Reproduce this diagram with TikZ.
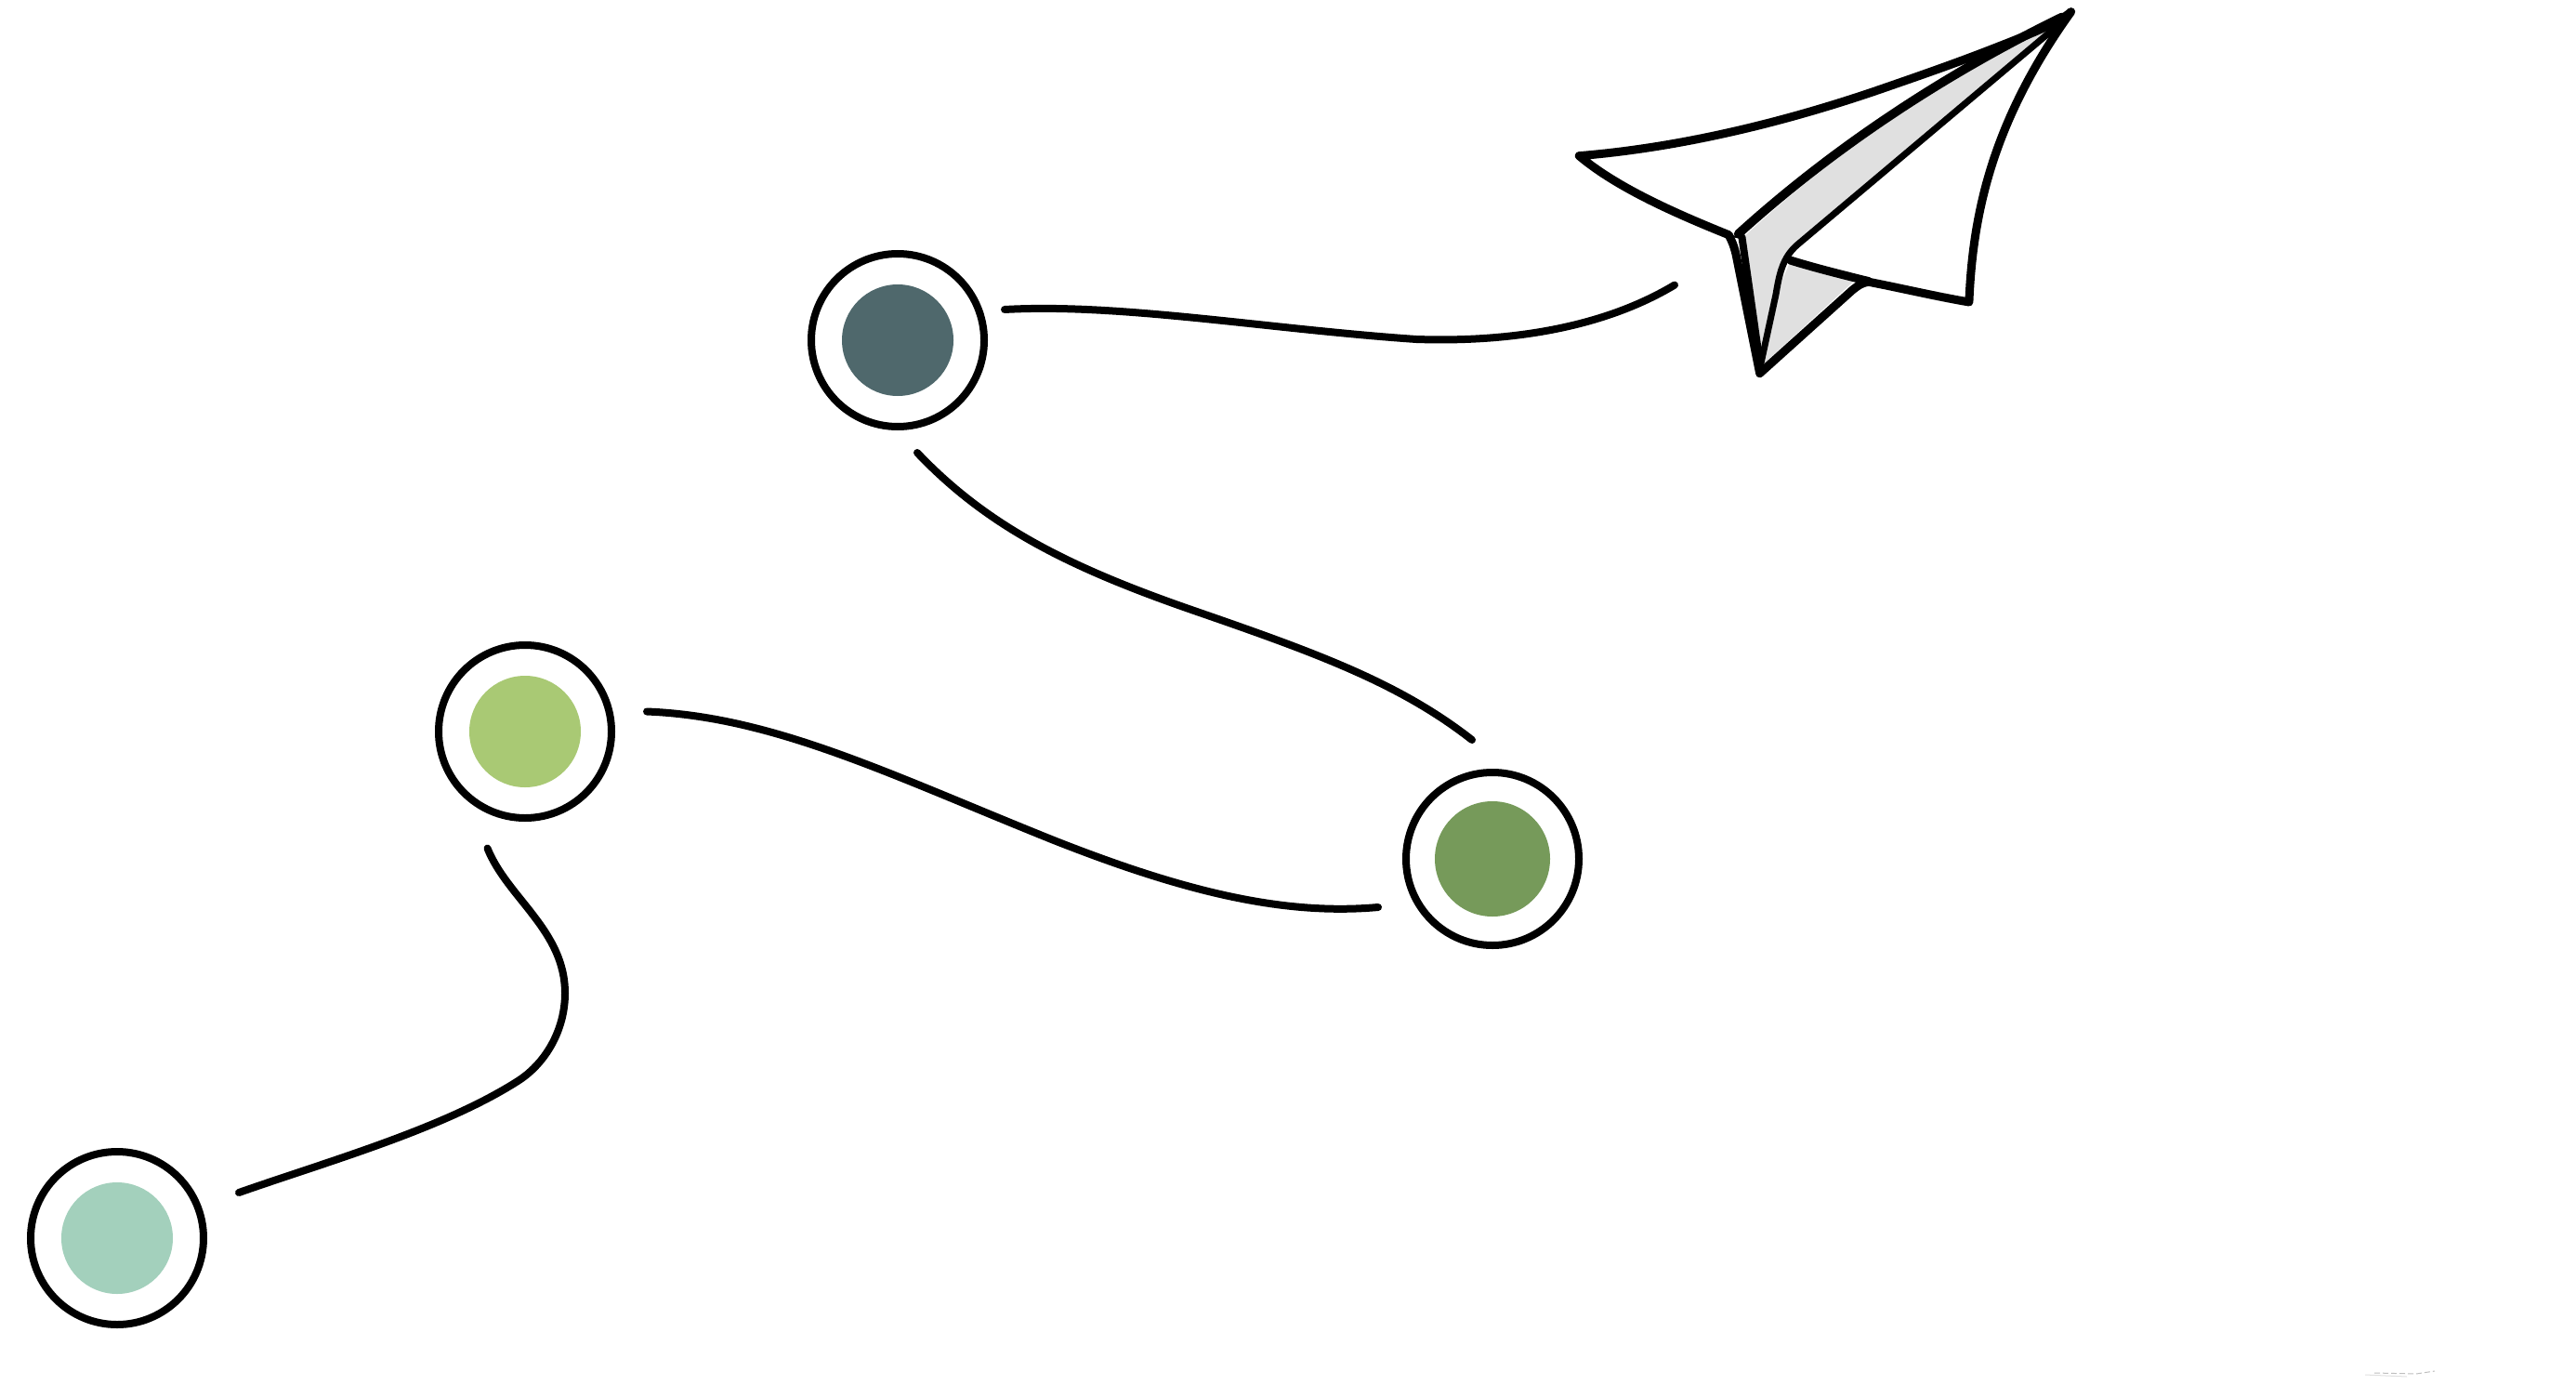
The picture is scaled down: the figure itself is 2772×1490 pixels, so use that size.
\documentclass[tikz,border=0pt]{standalone}
\definecolor{mint}{HTML}{A3D0BC}
\definecolor{leaf}{HTML}{A9C974}
\definecolor{moss}{HTML}{769A5A}
\definecolor{slate}{HTML}{4F686C}
\definecolor{foldgray}{HTML}{E0E0E0}
\tikzset{
  ring/.style={circle,draw=black,line width=8pt,fill=white,minimum size=186pt,inner sep=0pt},
  dot/.style={circle,fill=#1,minimum size=120pt,inner sep=0pt},
  link/.style={line width=8pt,line cap=round,line join=round},
  paper/.style={line width=9pt,line cap=round,line join=round}
}
\begin{document}
\begin{tikzpicture}[x=1pt,y=-1pt]
\useasboundingbox (0,0) rectangle (2772,1490);
\node[ring] (n1) at (126,1332) {}; \node[dot=mint] (d1) at (126,1332) {};
\node[ring] (n2) at (565,787) {}; \node[dot=leaf] (d2) at (565,787) {};
\node[ring] (n3) at (966,366) {}; \node[dot=slate] (d3) at (966,366) {};
\node[ring] (n4) at (1606,924) {}; \node[dot=moss,minimum size=124pt] (d4) at (1606,924) {};
\coordinate (a0) at (257,1283); \coordinate (a1) at (524.5,912.6);
\coordinate (b0) at (696,765.5); \coordinate (b1) at (1483,976);
\coordinate (c0) at (987,487); \coordinate (c1) at (1584,796);
\coordinate (e0) at (1081,333); \coordinate (e1) at (1802,306.6);
\draw[link] (a1) .. controls (546,966) and (608,1001) .. (608,1068.5) .. controls (608,1107) and (588,1143) .. (558,1162.5) .. controls (478,1214) and (354,1249) .. (a0);
\draw[link] (b0) .. controls (833,771) and (957,833) .. (1134,904) .. controls (1276,960) and (1382,985) .. (b1);
\draw[link] (c0) .. controls (1063,567) and (1152,611) .. (1285,657) .. controls (1418,703) and (1506,735) .. (c1);
\draw[link] (e0) .. controls (1205,326) and (1364,354) .. (1524,365) .. controls (1630,368.6) and (1728,351) .. (e1);
% paper plane, written in the coordinates of an enlarged view
\begin{scope}[shift={(1680,0)},xscale=0.385,yscale=1/3]
\fill[white] (50,503) .. controls (350,475) and (650,385) .. (900,285) .. controls (1000,245) and (1100,205) .. (1200,160) .. controls (1300,115) and (1390,75) .. (1425,38) .. controls (1200,400) and (1150,700) .. (1140,975) .. controls (1040,955) and (950,930) .. (860,905) -- (555,1205) -- (490,800) -- cycle;
\fill[foldgray] (505,770) .. controls (700,560) and (1000,290) .. (1370,90) -- (660,790) .. controls (620,830) and (610,880) .. (600,950) -- (560,1180) -- cycle;
\fill[foldgray] (640,845) -- (820,905) -- (565,1175) -- (600,950) -- cycle;
\draw[paper] (50,503) .. controls (350,475) and (650,385) .. (900,285) .. controls (1000,245) and (1100,205) .. (1200,160) .. controls (1300,115) and (1390,75) .. (1425,38) .. controls (1200,400) and (1150,700) .. (1140,975) .. controls (1040,955) and (950,930) .. (860,910) .. controls (840,912) and (830,922) .. (815,935) -- (555,1205) -- (490,830) .. controls (485,800) and (478,780) .. (468,758) .. controls (300,680) and (150,600) .. (50,503) -- cycle;
\draw[paper,line width=9.5pt] (495,755) .. controls (700,540) and (1000,280) .. (1400,55);
\draw[paper,line width=7pt] (1380,90) -- (660,790) .. controls (620,830) and (610,880) .. (600,950) -- (555,1190);
\draw[paper] (640,840) .. controls (710,865) and (780,885) .. (860,908);
\draw[paper,line width=8pt] (505,765) -- (555,1170);
\draw[paper,line width=2pt] (470,760) -- (510,770);
\end{scope}
% faint smudge at the lower right
\draw[black!25,line width=1pt,dash pattern=on 6pt off 3pt] (2555,1477) -- (2600,1478) -- (2620,1475);
\draw[black!12,line width=1pt] (2545,1479) -- (2590,1481);
\end{tikzpicture}
\end{document}
